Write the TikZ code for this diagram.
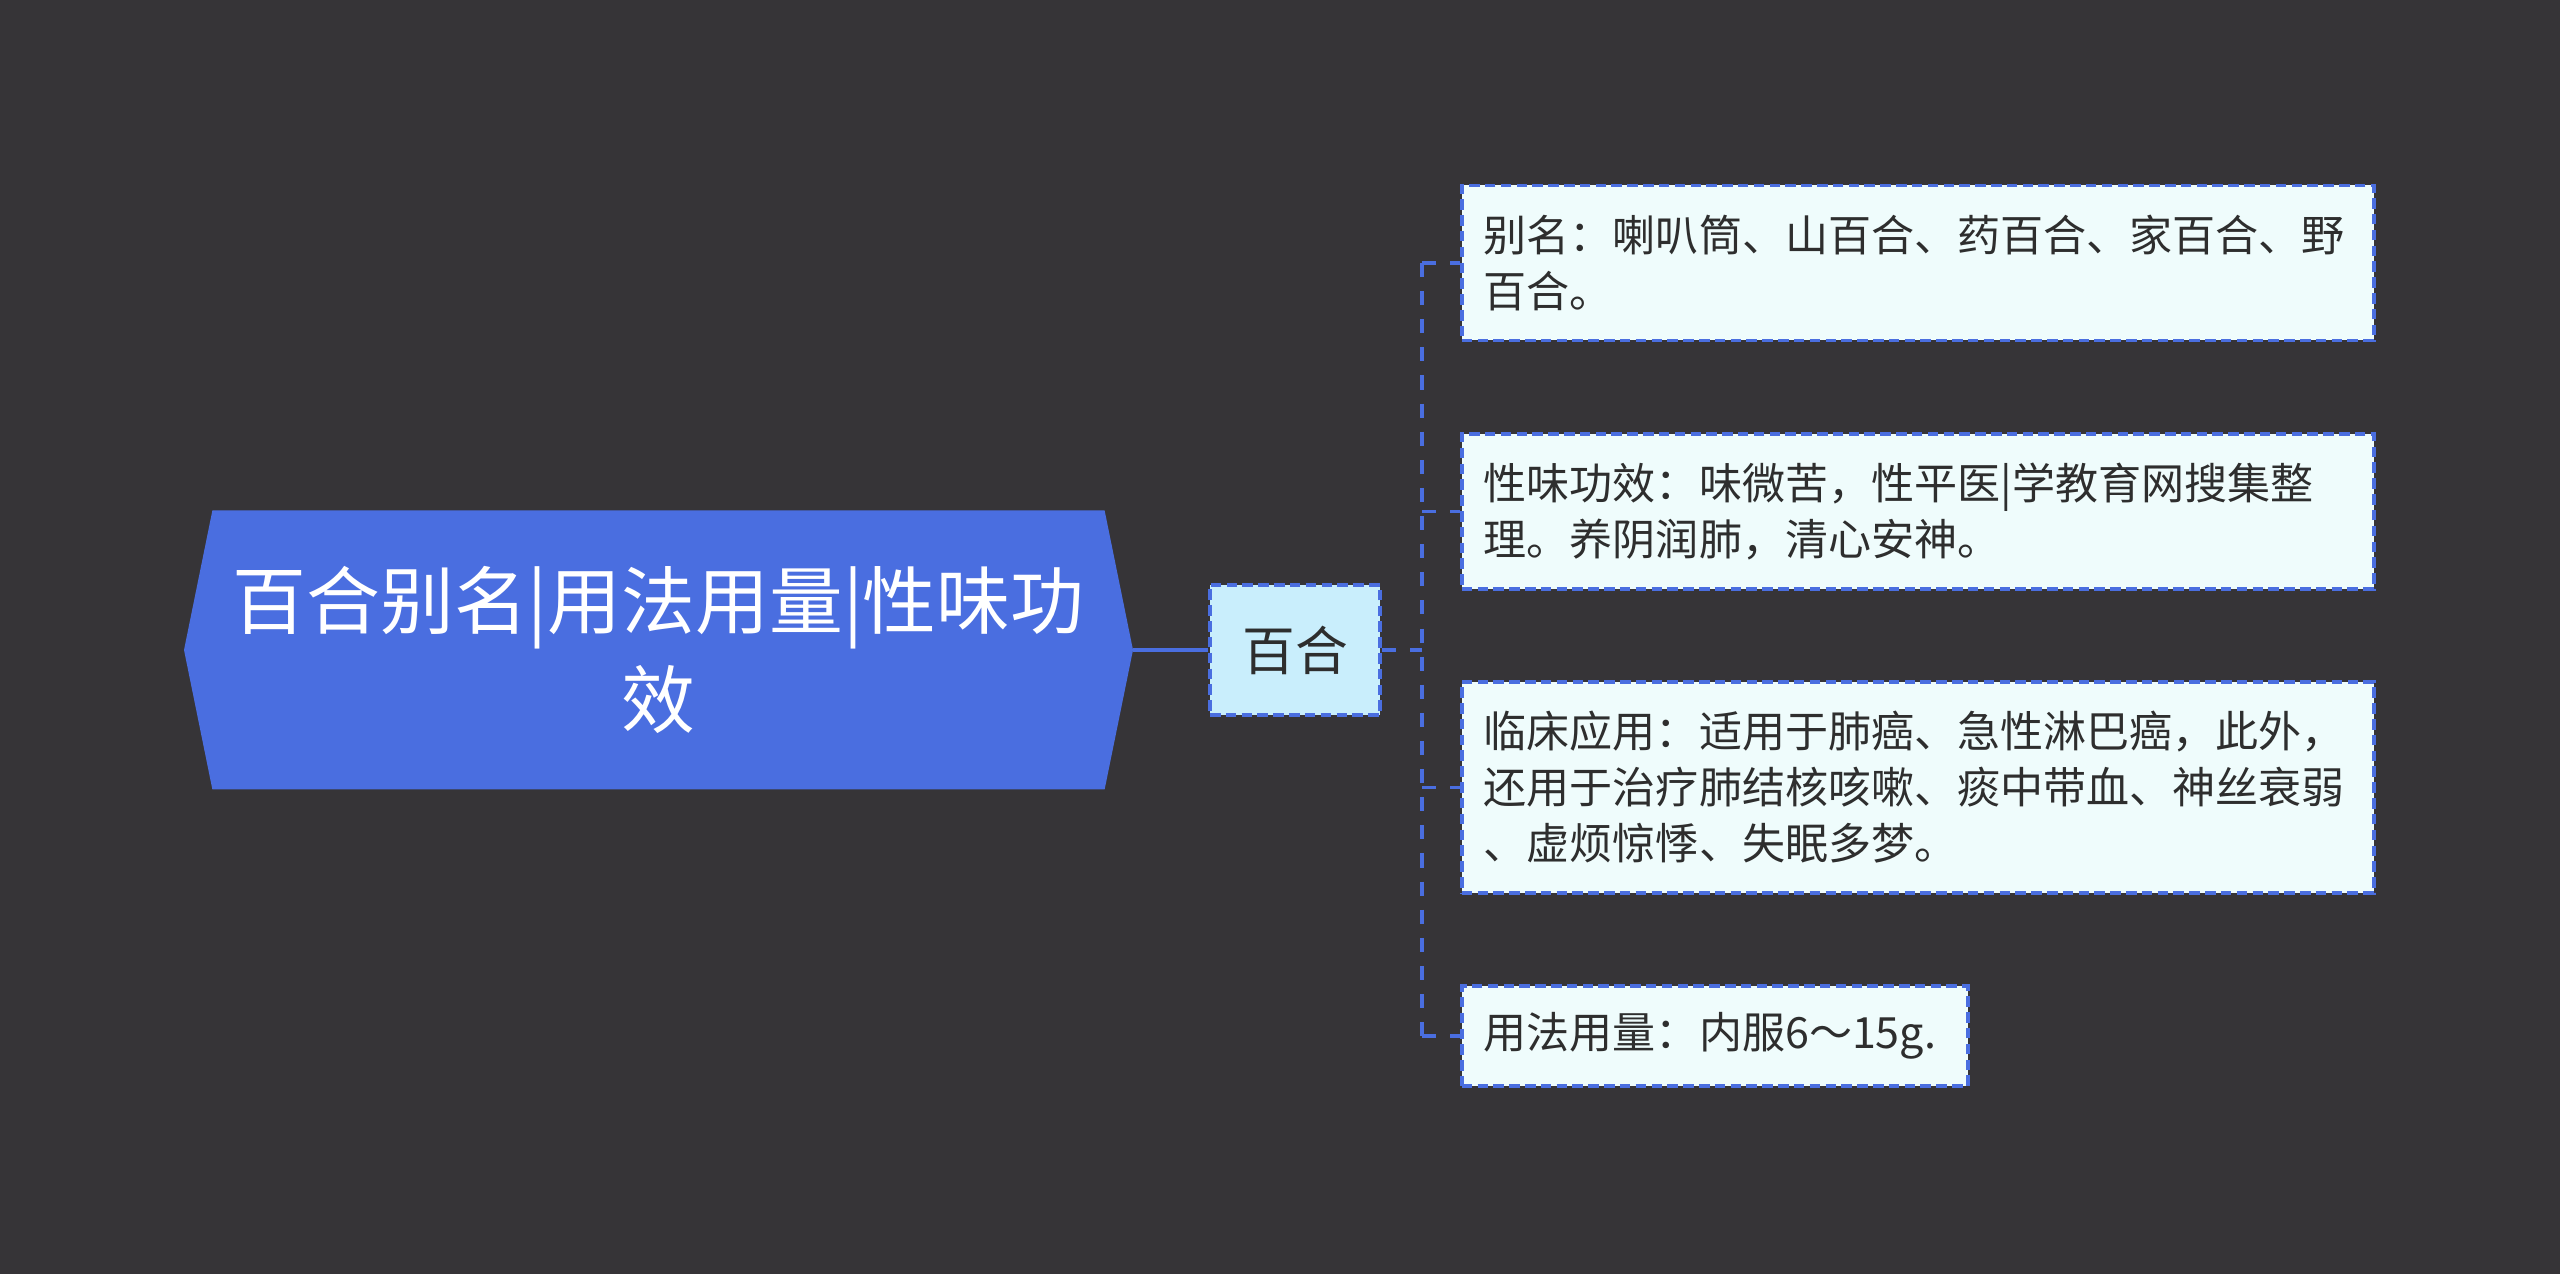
\documentclass[tikz,border=0pt]{standalone}
\usepackage{fontspec}
\setmainfont{Noto Sans CJK SC}
\usetikzlibrary{positioning,calc,shapes.symbols}
\definecolor{cbg}{HTML}{363437}
\definecolor{cblue}{HTML}{4A6EE0}
\definecolor{chub}{HTML}{C9EEFC}
\definecolor{cleaf}{HTML}{EFFCFC}
\definecolor{ctext}{HTML}{2E2E2E}

\begin{document}
\begin{tikzpicture}[
  root/.style={signal, signal to=west and east, signal pointer angle=157,
               fill=cblue, text=white, align=center, inner sep=0pt,
               minimum width=18.98cm, minimum height=5.58cm,
               font=\fontsize{42}{56}\selectfont},
  hub/.style={rectangle, fill=chub, draw=cblue, line width=2.2pt,
              dash pattern=on 6pt off 3pt, text=ctext,
              minimum width=3.4cm, minimum height=2.6cm,
              font=\fontsize{30}{36}\selectfont},
  leaf/.style={rectangle, fill=cleaf, draw=cblue, line width=2pt,
               dash pattern=on 6pt off 3pt, text=ctext, anchor=west,
               align=left, inner xsep=0.44cm, inner ysep=0pt,
               font=\fontsize{24.5}{31.9}\selectfont},
  trunk/.style={draw=cblue, line width=2.2pt},
  link/.style={draw=cblue, line width=2.2pt, dash pattern=on 8pt off 8pt}
]

% --- background and page size ---
\fill[cbg] (0,0) rectangle (51.2,25.48);
\useasboundingbox (0,0) rectangle (51.2,25.48);

% --- root and hub ---
\node[root] (root) at (13.17,12.48)
  {百合别名|用法用量|性味功\\效};
\node[hub] (hub) at (25.9,12.48) {百合};
\draw[trunk] (root.east) -- (hub.west);

% --- the four leaves ---
\node[leaf, text width=17.36cm, minimum height=3.1cm] (alias) at (29.2,20.22)
  {别名：喇叭筒、山百合、药百合、家百合、野\\百合。};
\node[leaf, text width=17.36cm, minimum height=3.1cm] (nature) at (29.2,15.25)
  {性味功效：味微苦，性平医|学教育网搜集整\\理。养阴润肺，清心安神。};
\node[leaf, text width=17.36cm, minimum height=4.22cm] (usage) at (29.2,9.73)
  {临床应用：适用于肺癌、急性淋巴癌，此外，\\还用于治疗肺结核咳嗽、痰中带血、神丝衰弱\\、虚烦惊悸、失眠多梦。};
\node[leaf, text width=9.24cm, minimum height=2.0cm] (dose) at (29.2,4.76)
  {用法用量：内服6～15g.};

% --- bus from hub to leaves ---
\coordinate (bus) at ($(hub.east)+(0.8,0)$);
\draw[link] (hub.east) -- (bus);
\draw[link] (alias.west -| bus) -- (dose.west -| bus);
\foreach \leafname in {alias,nature,usage,dose}
  \draw[link] (\leafname.west -| bus) -- (\leafname.west);

\end{tikzpicture}
\end{document}
